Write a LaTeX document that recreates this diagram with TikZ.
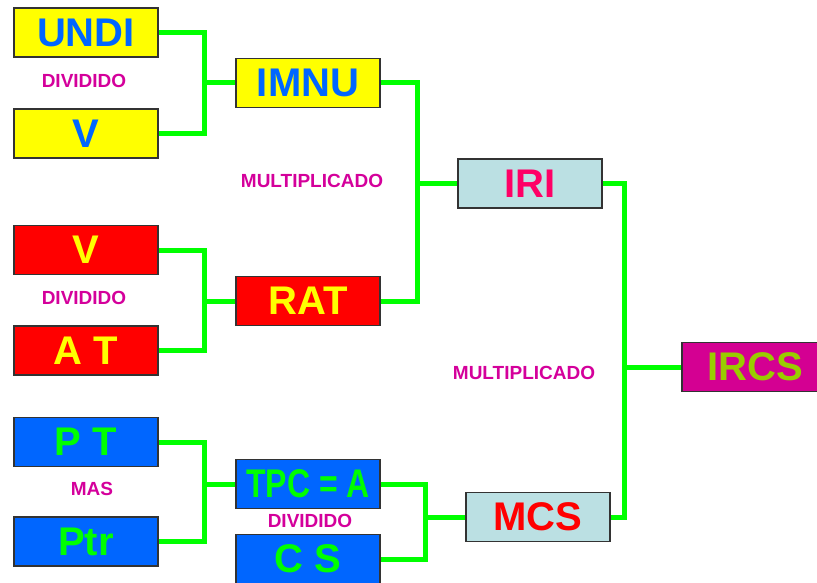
\documentclass[tikz,border=0pt]{standalone}
\usepackage{fontspec}
\setmainfont{Liberation Sans}
\usepackage{graphicx}
\definecolor{ylw}{HTML}{FFFF00}
\definecolor{bluetxt}{HTML}{0066FF}
\definecolor{redbox}{HTML}{FF0000}
\definecolor{bluebox}{HTML}{0066FF}
\definecolor{grn}{HTML}{00FF00}
\definecolor{ltblue}{HTML}{BBE0E3}
\definecolor{mag}{HTML}{D40092}
\definecolor{olive}{HTML}{99CC00}
\definecolor{pinkred}{HTML}{FF0066}
\definecolor{lbl}{HTML}{D4009B}
\definecolor{border}{HTML}{333333}
\tikzset{
  box/.style={draw=border, line width=1.2pt, minimum width=144pt, minimum height=49pt,
    inner sep=0pt, font=\fontsize{40}{40}\selectfont\bfseries},
  ybox/.style={box, fill=ylw, text=bluetxt},
  rbox/.style={box, fill=redbox, text=ylw},
  bbox/.style={box, fill=bluebox, text=grn},
  lbbox/.style={box, fill=ltblue},
  lab/.style={text=lbl, font=\fontsize{19}{19}\selectfont\bfseries, inner sep=0pt},
  conn/.style={draw=grn, line width=5pt, line join=miter}
}
\begin{document}
\begin{tikzpicture}[x=1pt,y=-1pt]
\useasboundingbox (0,0) rectangle (817,583);
\begin{scope}
\clip (0,0) rectangle (817,583);
% connectors first
\coordinate (j1) at (204,83);
\coordinate (j2) at (417,183.5);
\coordinate (j3) at (204,301);
\coordinate (j4) at (624,367);
\coordinate (j5) at (204,484);
\coordinate (j6) at (425,517);

\node[ybox] (undi) at (86,32.5) {UNDI};
\node[ybox] (v1) at (86,133.5) {V};
\node[ybox] (imnu) at (308,83) {IMNU};
\node[rbox] (v2) at (86,250) {V};
\node[rbox] (at) at (86,350.5) {A T};
\node[rbox] (rat) at (308,301) {RAT};
\node[lbbox, text=pinkred] (iri) at (530,183.5) {IRI};
\node[box, fill=mag, text=olive, minimum width=146pt] (ircs) at (755,367) {IRCS};
\node[bbox] (pt) at (86,442) {P T};
\node[bbox] (ptr) at (86,541.5) {Ptr};
\node[bbox] (tpc) at (308,484) {\scalebox{0.8}[1]{TPC = A}};
\node[bbox] (cs) at (308,559) {C S};
\node[lbbox, text=redbox] (mcs) at (538,517) {MCS};

\begin{scope}[on background layer/.try]
\end{scope}
\draw[conn] (undi.east) -| (j1) |- (v1.east);
\draw[conn] (j1) -- (imnu.west);
\draw[conn] (v2.east) -| (j3) |- (at.east);
\draw[conn] (j3) -- (rat.west);
\draw[conn] (imnu.east) -| (j2) |- (rat.east);
\draw[conn] (j2) -- (iri.west);
\draw[conn] (pt.east) -| (j5) |- (ptr.east);
\draw[conn] (j5) -- (tpc.west);
\draw[conn] (tpc.east) -| (j6) |- (cs.east);
\draw[conn] (j6) -- (mcs.west);
\draw[conn] (iri.east) -| (j4) |- (mcs.east);
\draw[conn] (j4) -- (ircs.west);

\node[lab] (l1) at (84,81) {DIVIDIDO};
\node[lab] (l2) at (312,181) {MULTIPLICADO};
\node[lab] (l3) at (84,298) {DIVIDIDO};
\node[lab] (l4) at (524,373) {MULTIPLICADO};
\node[lab] (l5) at (92,489) {MAS};
\node[lab] (l6) at (310,521) {DIVIDIDO};
\end{scope}
\end{tikzpicture}
\end{document}
